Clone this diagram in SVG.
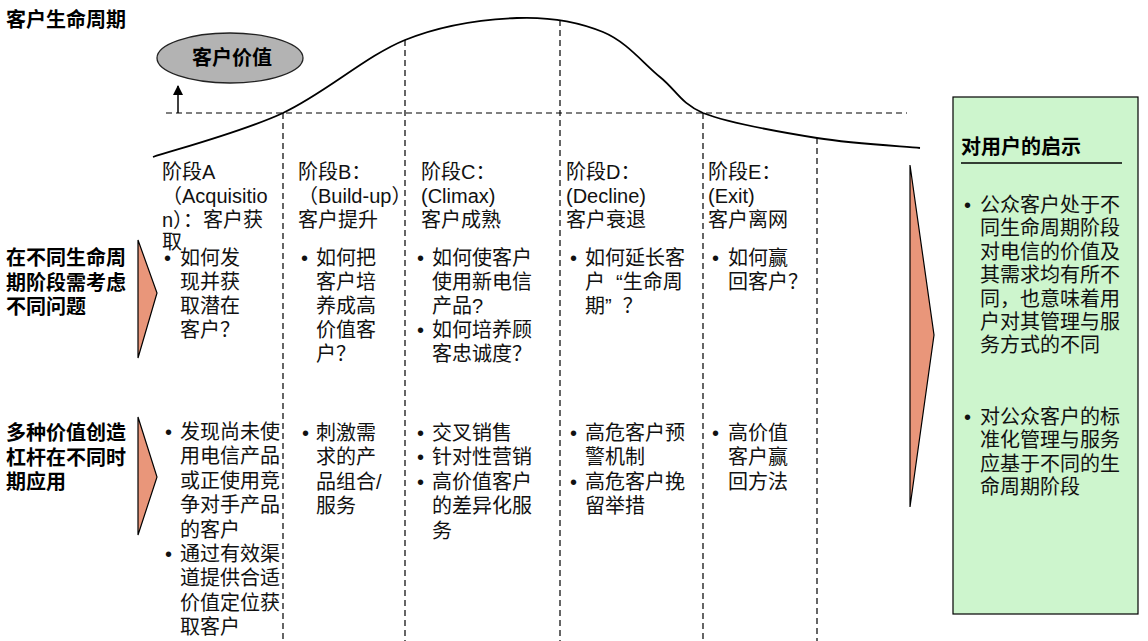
<svg xmlns="http://www.w3.org/2000/svg" width="1148" height="641" viewBox="0 0 1148 641">
<style>
.t{font-family:'Liberation Sans','Noto Sans CJK SC',sans-serif;font-size:20px;fill:#111}
.b{font-family:'Liberation Sans','Noto Sans CJK SC',sans-serif;font-size:20px;font-weight:bold;fill:#000}
.dash{stroke:#000;stroke-width:1.2;stroke-dasharray:6 4;fill:none}
.tri{fill:#E9967A;stroke:#000;stroke-width:1.2}
</style>
<defs>
<marker id="ah" viewBox="0 0 10 10" refX="9" refY="5" markerWidth="7" markerHeight="7" orient="auto">
<path d="M0,0 L10,5 L0,10 z" fill="#000"/>
</marker>
</defs>
<rect width="1148" height="641" fill="#fff"/>
<g id="title"><text class="b" x="6" y="27">客户生命周期</text></g>

<g id="connectors">
<line class="dash" x1="166" y1="113" x2="907" y2="113"/>
<line class="dash" x1="283" y1="113" x2="283" y2="641"/>
<line class="dash" x1="405" y1="40" x2="405" y2="641"/>
<line class="dash" x1="560" y1="20" x2="560" y2="641"/>
<line class="dash" x1="703" y1="113" x2="703" y2="641"/>
<line class="dash" x1="817" y1="138" x2="817" y2="641"/>
<line x1="178" y1="113" x2="178" y2="86" stroke="#000" stroke-width="1.5" marker-end="url(#ah)"/>
<path d="M153,157 C174.7,149.7 241,132.5 283,113 C325,93.5 366,55.8 405,40 C444,24.2 484,19.3 517,18 C550,16.7 579.2,22.2 603,32 C626.8,41.8 643.3,63.5 660,77 C676.7,90.5 680,102.8 703,113 C729.2,123.2 780.8,132.2 817,138 C853.2,143.8 902.8,146.3 920,148" fill="none" stroke="#000" stroke-width="1.8"/>
</g>

<g id="value">
<ellipse cx="230" cy="58" rx="73" ry="25" fill="#B3B3B3" stroke="#222" stroke-width="1.3"/>
<text class="b" x="232" y="65" text-anchor="middle">客户价值</text>
</g>

<g id="label-questions">
<text class="b"><tspan x="6" y="265">在不同生命周</tspan><tspan x="6" dy="25">期阶段需考虑</tspan><tspan x="6" dy="24">不同问题</tspan></text>
<polygon class="tri" points="138,240 157,293 138,358"/>
</g>
<g id="label-levers">
<text class="b"><tspan x="6" y="440">多种价值创造</tspan><tspan x="6" dy="25">杠杆在不同时</tspan><tspan x="6" dy="24">期应用</tspan></text>
<polygon class="tri" points="138,417 157,477 138,535"/>
</g>

<g id="stage-a" class="t">
<text><tspan x="162" y="179">阶段A</tspan><tspan x="162" dy="24">（Acquisitio</tspan><tspan x="162" dy="24">n）：客户获</tspan><tspan x="162" dy="22">取</tspan></text>
<text><tspan x="164" y="265">•</tspan><tspan x="180" y="265">如何发</tspan><tspan x="180" dy="24">现并获</tspan><tspan x="180" dy="24">取潜在</tspan><tspan x="180" dy="24">客户？</tspan></text>
<text><tspan x="165" y="439">•</tspan><tspan x="180" y="439">发现尚未使</tspan><tspan x="180" dy="24.4">用电信产品</tspan><tspan x="180" dy="24.4">或正使用竞</tspan><tspan x="180" dy="24.4">争对手产品</tspan><tspan x="180" dy="24.4">的客户</tspan><tspan x="165" dy="24.4">•</tspan><tspan x="180">通过有效渠</tspan><tspan x="180" dy="24.4">道提供合适</tspan><tspan x="180" dy="24.4">价值定位获</tspan><tspan x="180" dy="24.4">取客户</tspan></text>
</g>

<g id="stage-b" class="t">
<text><tspan x="298" y="179">阶段B：</tspan><tspan x="298" dy="24">（Build-up）</tspan><tspan x="298" dy="24">客户提升</tspan></text>
<text><tspan x="301" y="265">•</tspan><tspan x="316" y="265">如何把</tspan><tspan x="316" dy="24">客户培</tspan><tspan x="316" dy="24">养成高</tspan><tspan x="316" dy="24">价值客</tspan><tspan x="316" dy="24">户？</tspan></text>
<text><tspan x="302" y="440">•</tspan><tspan x="316" y="440">刺激需</tspan><tspan x="316" dy="24.4">求的产</tspan><tspan x="316" dy="24.4">品组合/</tspan><tspan x="316" dy="24.4">服务</tspan></text>
</g>

<g id="stage-c" class="t">
<text><tspan x="421" y="179">阶段C：</tspan><tspan x="421" dy="24">(Climax)</tspan><tspan x="421" dy="24">客户成熟</tspan></text>
<text><tspan x="417" y="265">•</tspan><tspan x="432" y="265">如何使客户</tspan><tspan x="432" dy="24">使用新电信</tspan><tspan x="432" dy="24">产品?</tspan><tspan x="417" dy="24">•</tspan><tspan x="432">如何培养顾</tspan><tspan x="432" dy="24">客忠诚度？</tspan></text>
<text><tspan x="417" y="440">•</tspan><tspan x="432" y="440">交叉销售</tspan><tspan x="417" dy="24.4">•</tspan><tspan x="432">针对性营销</tspan><tspan x="417" dy="24.4">•</tspan><tspan x="432">高价值客户</tspan><tspan x="432" dy="24.4">的差异化服</tspan><tspan x="432" dy="24.4">务</tspan></text>
</g>

<g id="stage-d" class="t">
<text><tspan x="566" y="179">阶段D：</tspan><tspan x="566" dy="24">(Decline)</tspan><tspan x="566" dy="24">客户衰退</tspan></text>
<text xml:space="preserve"><tspan x="570" y="265">•</tspan><tspan x="585" y="265">如何延长客</tspan><tspan x="585" dy="24">户  “生命周</tspan><tspan x="585" dy="24">期”  ？</tspan></text>
<text><tspan x="570" y="440">•</tspan><tspan x="585" y="440">高危客户预</tspan><tspan x="585" dy="24.4">警机制</tspan><tspan x="570" dy="24.4">•</tspan><tspan x="585">高危客户挽</tspan><tspan x="585" dy="24.4">留举措</tspan></text>
</g>

<g id="stage-e" class="t">
<text><tspan x="708" y="179">阶段E：</tspan><tspan x="708" dy="24">(Exit)</tspan><tspan x="708" dy="24">客户离网</tspan></text>
<text><tspan x="712" y="265">•</tspan><tspan x="728" y="265">如何赢</tspan><tspan x="728" dy="24">回客户？</tspan></text>
<text><tspan x="712" y="440">•</tspan><tspan x="728" y="440">高价值</tspan><tspan x="728" dy="24.4">客户赢</tspan><tspan x="728" dy="24.4">回方法</tspan></text>
</g>

<g id="big-arrow">
<polygon class="tri" points="910,165 934,335 910,507"/>
</g>

<g id="insight">
<rect x="953" y="97" width="185" height="517" fill="#CDF5CD" stroke="#000" stroke-width="1.2"/>
<text class="b" x="961" y="154">对用户的启示</text>
<line x1="961" y1="163" x2="1122" y2="163" stroke="#000" stroke-width="1.3"/>
<text class="t"><tspan x="964" y="212">•</tspan><tspan x="980" y="212">公众客户处于不</tspan><tspan x="980" dy="23.4">同生命周期阶段</tspan><tspan x="980" dy="23.4">对电信的价值及</tspan><tspan x="980" dy="23.4">其需求均有所不</tspan><tspan x="980" dy="23.4">同，也意味着用</tspan><tspan x="980" dy="23.4">户对其管理与服</tspan><tspan x="980" dy="23.4">务方式的不同</tspan></text>
<text class="t"><tspan x="964" y="424">•</tspan><tspan x="980" y="424">对公众客户的标</tspan><tspan x="980" dy="23.4">准化管理与服务</tspan><tspan x="980" dy="23.4">应基于不同的生</tspan><tspan x="980" dy="23.4">命周期阶段</tspan></text>
</g>
</svg>
